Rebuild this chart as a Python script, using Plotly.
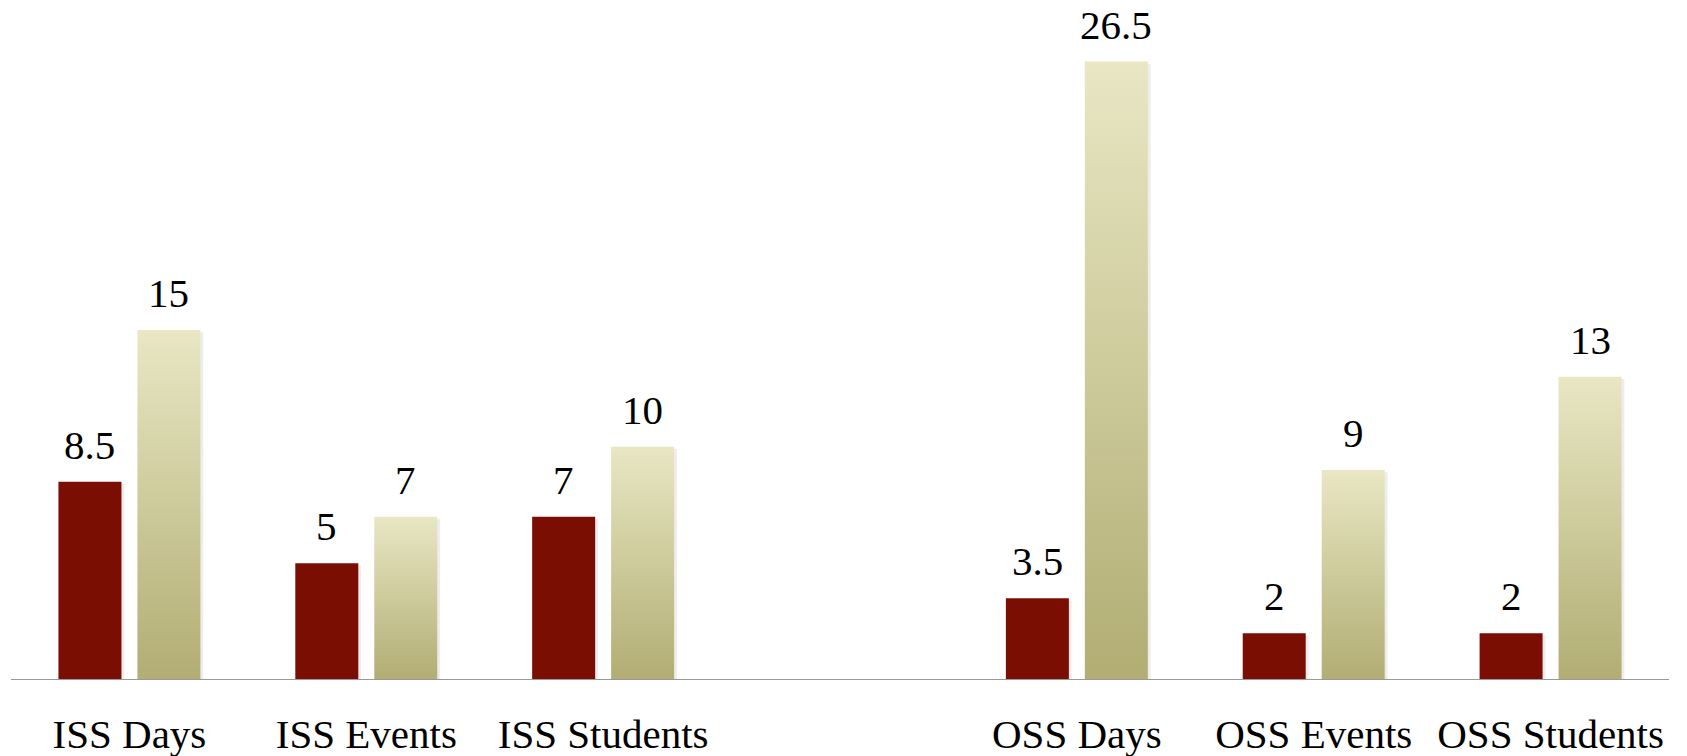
import plotly.graph_objects as go

# Category labels along the x axis; the blank entry is the spacer between the ISS and OSS groups
categories = ["ISS Days", "ISS Events", "ISS Students", "", "OSS Days", "OSS Events", "OSS Students"]
# Two series per category (None for the spacer slot)
first_period = [8.5, 5, 7, None, 3.5, 2, 2]
second_period = [15, 7, 10, None, 26.5, 9, 13]
value_labels_first = ["8.5", "5", "7", "", "3.5", "2", "2"]
value_labels_second = ["15", "7", "10", "", "26.5", "9", "13"]

DARK = "#7b0e02"
LIGHT_TOP = "#e9e7c4"
LIGHT_BOTTOM = "#b1ad73"
FONT = "Liberation Serif, Times New Roman, serif"

BAR_W = 0.266
OFFSET = 0.1667

x_idx = list(range(len(categories)))

fig = go.Figure()

# Soft drop shadow behind every bar
for series, sign in ((first_period, -1), (second_period, 1)):
    xs = [i + sign * OFFSET + 0.008 for i, v in zip(x_idx, series) if v is not None]
    ys = [v for v in series if v is not None]
    fig.add_trace(go.Bar(
        x=xs, y=ys, width=BAR_W + 0.008, base=-0.1,
        marker=dict(color="rgba(0,0,0,0.07)", line=dict(width=0)),
        hoverinfo="skip", showlegend=False,
    ))

# Solid dark-red bars
fig.add_trace(go.Bar(
    x=[i - OFFSET for i, v in zip(x_idx, first_period) if v is not None],
    y=[v for v in first_period if v is not None],
    width=BAR_W,
    marker=dict(color=DARK, line=dict(width=0)),
    showlegend=False,
))

# Light bars with a vertical gradient, one filled shape per bar
for i, v in zip(x_idx, second_period):
    if v is None:
        continue
    cx = i + OFFSET
    x0, x1 = cx - BAR_W / 2, cx + BAR_W / 2
    fig.add_trace(go.Scatter(
        x=[x0, x1, x1, x0, x0],
        y=[0, 0, v, v, 0],
        mode="lines",
        line=dict(width=0),
        fill="toself",
        fillgradient=dict(
            type="vertical",
            colorscale=[[0, LIGHT_BOTTOM], [1, LIGHT_TOP]],
        ),
        hoverinfo="skip",
        showlegend=False,
    ))

# Value labels above each bar
annotations = []
for series, labels, sign in ((first_period, value_labels_first, -1),
                             (second_period, value_labels_second, 1)):
    for i, v, t in zip(x_idx, series, labels):
        if v is None:
            continue
        annotations.append(dict(
            x=i + sign * OFFSET, y=v, text=t, showarrow=False,
            xref="x", yref="y", yanchor="bottom", yshift=12,
            font=dict(family=FONT, size=41, color="black"),
        ))

fig.update_layout(
    width=1687, height=756,
    margin=dict(l=11, r=18, t=0, b=76),
    paper_bgcolor="white", plot_bgcolor="white",
    barmode="overlay",
    annotations=annotations,
    xaxis=dict(
        range=[-0.5, 6.5],
        tickmode="array", tickvals=x_idx, ticktext=categories,
        tickfont=dict(family=FONT, size=41, color="black"),
        ticklabelstandoff=26,
        showgrid=False, zeroline=False, showline=False, ticks="",
    ),
    yaxis=dict(
        range=[0, 29.14], visible=False, showgrid=False, zeroline=False,
    ),
    shapes=[dict(type="line", xref="paper", yref="y", x0=0, x1=1, y0=0, y1=0,
                 line=dict(color="#999999", width=2), layer="above")],
)

fig.write_html("out.html")
